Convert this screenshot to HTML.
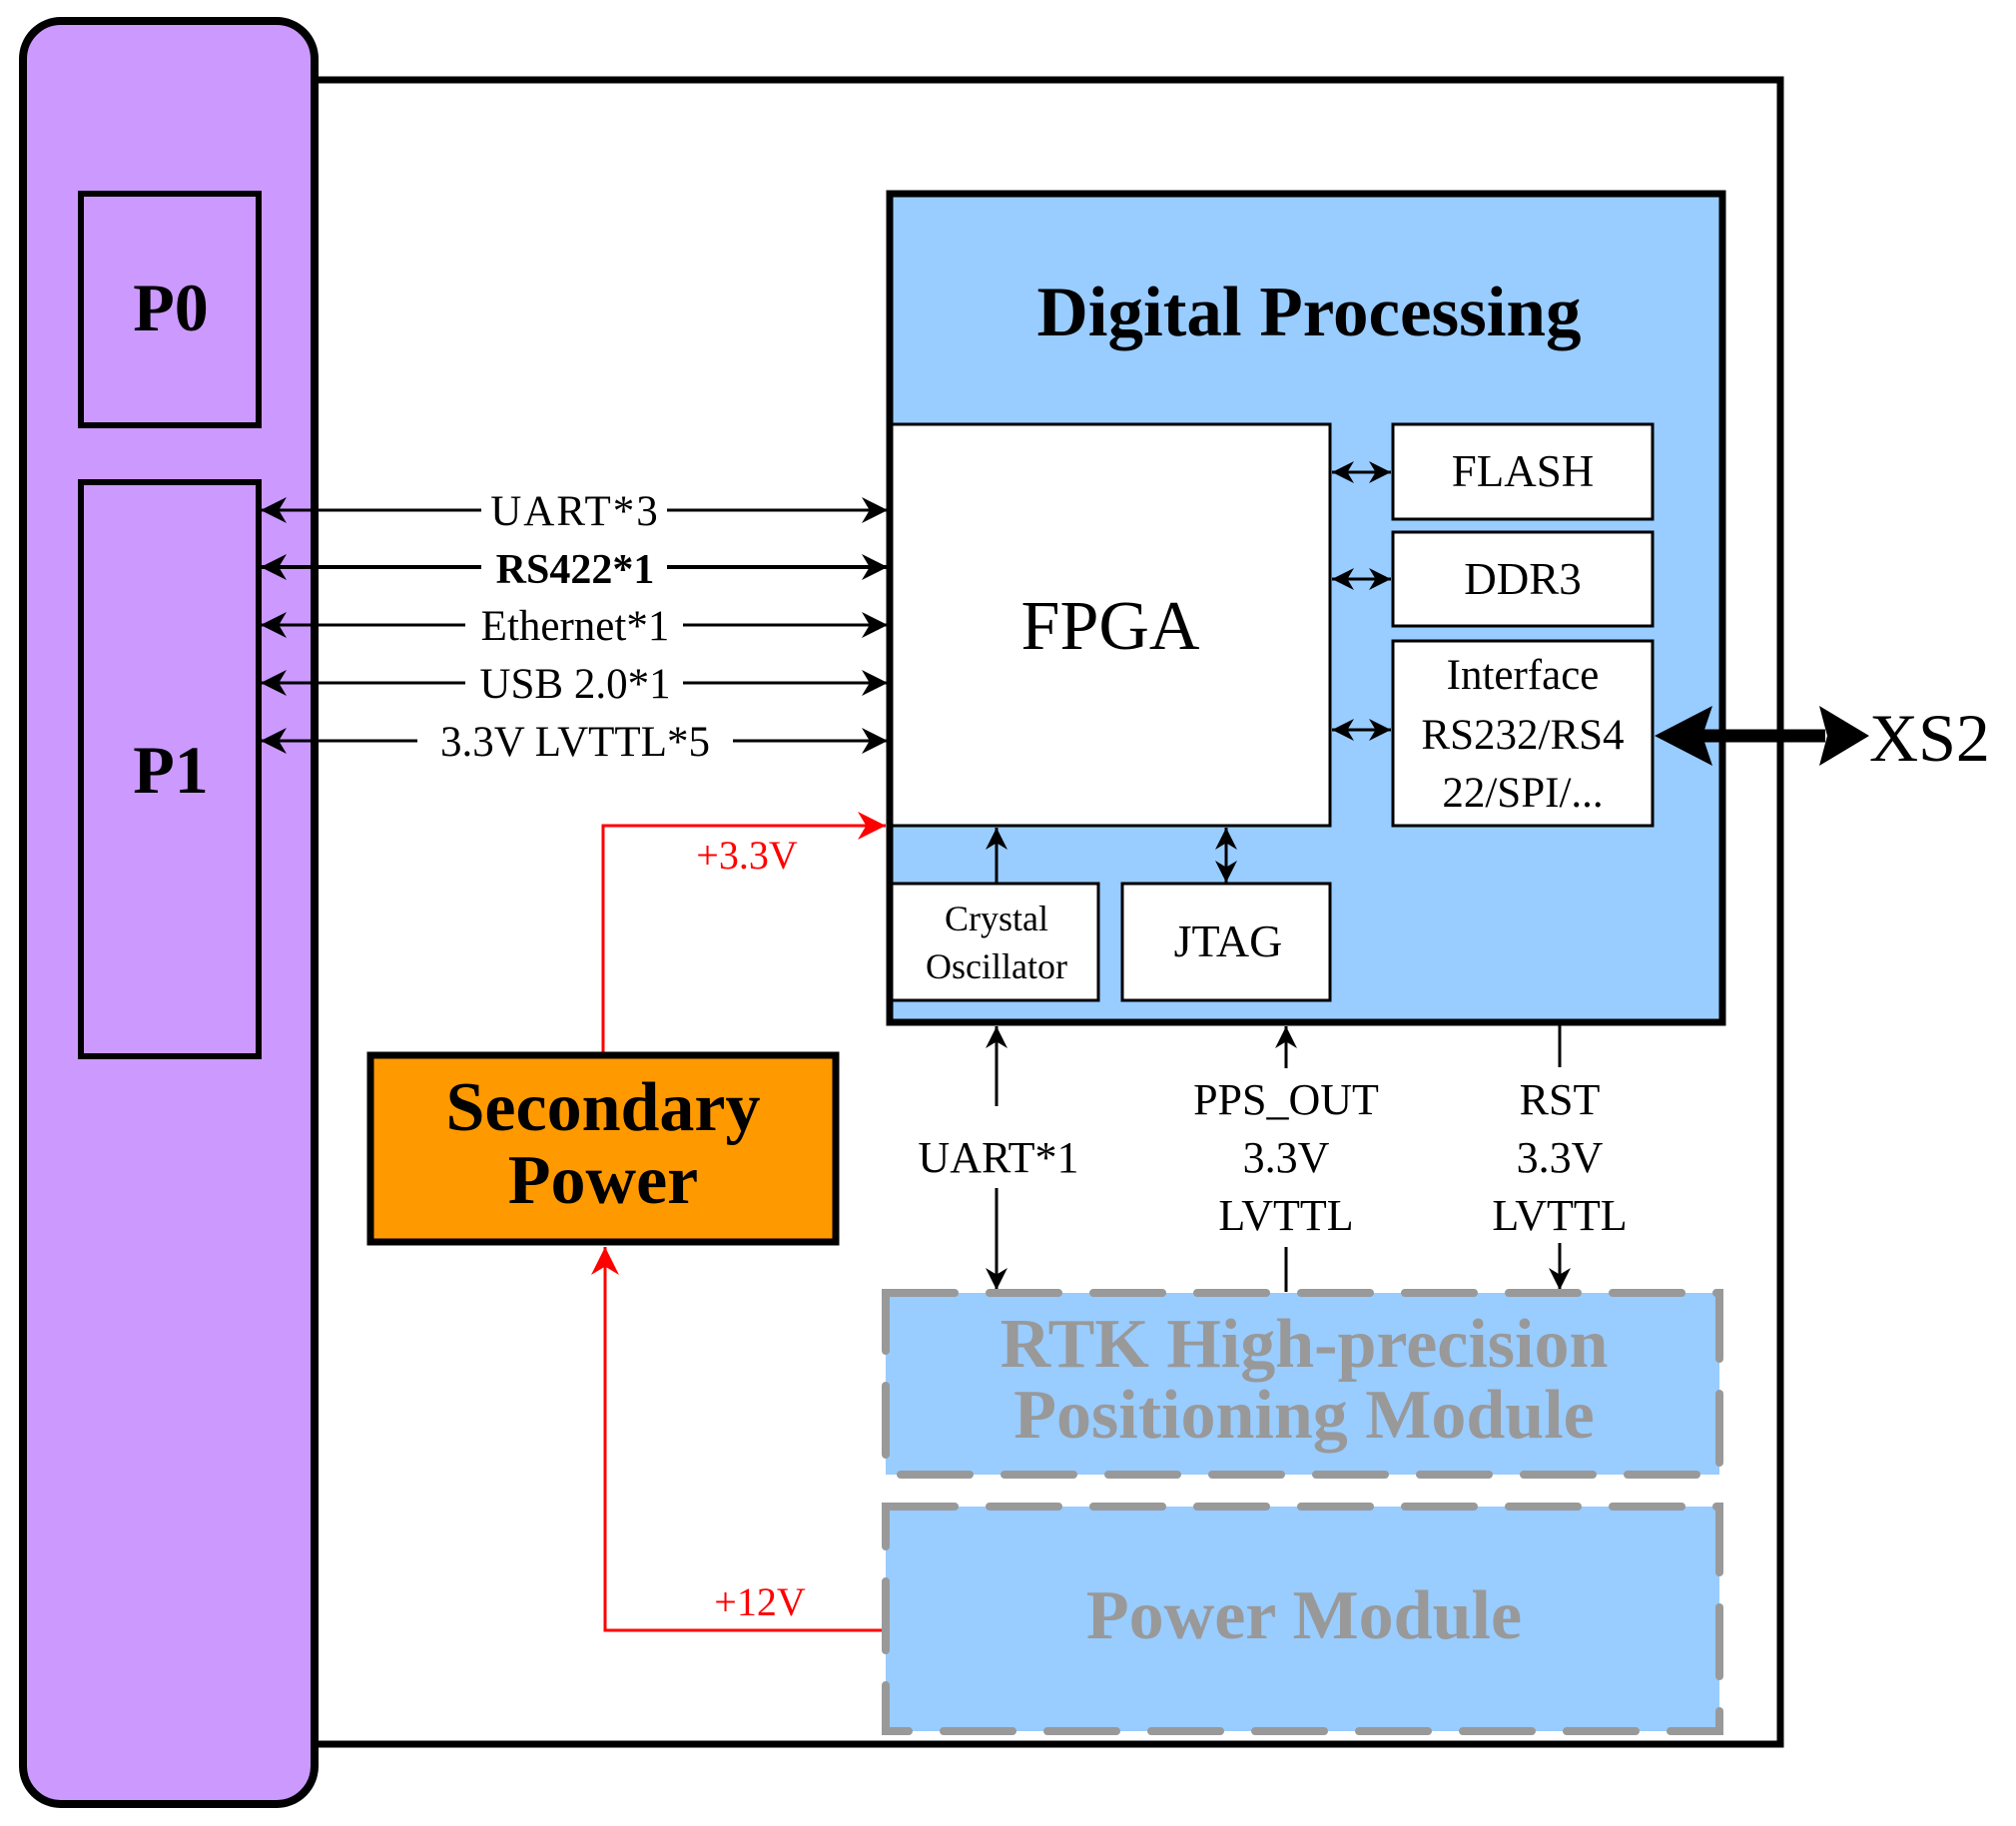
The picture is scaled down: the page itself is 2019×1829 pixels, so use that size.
<!DOCTYPE html>
<html><head><meta charset="utf-8"><style>
html,body{margin:0;padding:0;background:#fff}
svg{display:block}
text{font-family:"Liberation Serif",serif}
</style></head><body>
<svg width="2019" height="1829" viewBox="0 0 2019 1829" xmlns="http://www.w3.org/2000/svg">
<defs>
<marker id="ab" viewBox="0 0 10 10" refX="10" refY="5" markerWidth="26" markerHeight="26" markerUnits="userSpaceOnUse" orient="auto-start-reverse"><path d="M0,0 L10,5 L0,10 L3,5 z" fill="#000"/></marker>
<marker id="ar" viewBox="0 0 10 10" refX="10" refY="5" markerWidth="28" markerHeight="28" markerUnits="userSpaceOnUse" orient="auto-start-reverse"><path d="M0,0 L10,5 L0,10 L3,5 z" fill="#f00"/></marker>
<marker id="as" viewBox="0 0 10 10" refX="10" refY="5" markerWidth="22" markerHeight="22" markerUnits="userSpaceOnUse" orient="auto-start-reverse"><path d="M0,0 L10,5 L0,10 L3,5 z" fill="#000"/></marker>
</defs>
<rect x="315" y="80" width="1468" height="1667" fill="#fff" stroke="#000" stroke-width="7"/>
<rect x="23" y="21" width="292" height="1786" rx="38" fill="#CC99FF" stroke="#000" stroke-width="8"/>
<rect x="81" y="194" width="178" height="232" fill="#CC99FF" stroke="#000" stroke-width="6"/>
<rect x="81" y="483" width="178" height="575" fill="#CC99FF" stroke="#000" stroke-width="6"/>
<text x="171" y="331" font-size="68" font-weight="bold" text-anchor="middle">P0</text>
<text x="171" y="794" font-size="68" font-weight="bold" text-anchor="middle">P1</text>

<rect x="891" y="194" width="834" height="830" fill="#99CCFF" stroke="#000" stroke-width="7"/>
<text x="1311" y="336" font-size="71" font-weight="bold" text-anchor="middle">Digital Processing</text>
<rect x="893" y="425" width="439" height="402" fill="#fff" stroke="#000" stroke-width="3"/>
<text x="1112" y="650" font-size="70" text-anchor="middle">FPGA</text>
<rect x="1395" y="425" width="260" height="95" fill="#fff" stroke="#000" stroke-width="3"/>
<text x="1525" y="487" font-size="45" text-anchor="middle">FLASH</text>
<rect x="1395" y="533" width="260" height="94" fill="#fff" stroke="#000" stroke-width="3"/>
<text x="1525" y="595" font-size="45" text-anchor="middle">DDR3</text>
<rect x="1395" y="642" width="260" height="185" fill="#fff" stroke="#000" stroke-width="3"/>
<text x="1525" y="690" font-size="43" text-anchor="middle">Interface</text>
<text x="1525" y="750" font-size="43" text-anchor="middle">RS232/RS4</text>
<text x="1525" y="808" font-size="43" text-anchor="middle">22/SPI/...</text>
<rect x="893" y="885" width="207" height="117" fill="#fff" stroke="#000" stroke-width="3"/>
<text x="998" y="932" font-size="36" text-anchor="middle">Crystal</text>
<text x="998" y="980" font-size="36" text-anchor="middle">Oscillator</text>
<rect x="1124" y="885" width="208" height="117" fill="#fff" stroke="#000" stroke-width="3"/>
<text x="1230" y="958" font-size="46" text-anchor="middle">JTAG</text>
<line x1="998" y1="885" x2="998" y2="829" stroke="#000" stroke-width="3" marker-end="url(#as)"/>
<line x1="1228" y1="884" x2="1228" y2="829" stroke="#000" stroke-width="3" marker-start="url(#as)" marker-end="url(#as)"/>
<line x1="1334" y1="473" x2="1393" y2="473" stroke="#000" stroke-width="3" marker-start="url(#as)" marker-end="url(#as)"/>
<line x1="1334" y1="580" x2="1393" y2="580" stroke="#000" stroke-width="3" marker-start="url(#as)" marker-end="url(#as)"/>
<line x1="1334" y1="731" x2="1393" y2="731" stroke="#000" stroke-width="3" marker-start="url(#as)" marker-end="url(#as)"/>

<line x1="1700" y1="737" x2="1828" y2="737" stroke="#000" stroke-width="13"/>
<path d="M1657,737 L1715,707 L1705,737 L1715,767 z" fill="#000"/>
<path d="M1872,737 L1822,707 L1830,737 L1822,767 z" fill="#000"/>
<text x="1872" y="762" font-size="68">XS2</text>

<g stroke="#000" stroke-width="3">
<line x1="261" y1="511" x2="889" y2="511" marker-start="url(#ab)" marker-end="url(#ab)"/>
<line x1="261" y1="568" x2="889" y2="568" stroke-width="4" marker-start="url(#ab)" marker-end="url(#ab)"/>
<line x1="261" y1="626" x2="889" y2="626" marker-start="url(#ab)" marker-end="url(#ab)"/>
<line x1="261" y1="684" x2="889" y2="684" marker-start="url(#ab)" marker-end="url(#ab)"/>
<line x1="261" y1="742" x2="889" y2="742" marker-start="url(#ab)" marker-end="url(#ab)"/>
</g>
<g font-size="43" text-anchor="middle">
<rect x="482" y="490" width="186" height="40" fill="#fff"/>
<text x="576" y="526" letter-spacing="2">UART*3</text>
<rect x="482" y="548" width="186" height="40" fill="#fff"/>
<text x="576" y="584" font-weight="bold" font-size="42">RS422*1</text>
<rect x="466" y="605" width="218" height="40" fill="#fff"/>
<text x="576" y="641">Ethernet*1</text>
<rect x="466" y="663" width="218" height="40" fill="#fff"/>
<text x="576" y="699">USB 2.0*1</text>
<rect x="418" y="721" width="316" height="40" fill="#fff"/>
<text x="576" y="757">3.3V LVTTL*5</text>
</g>

<polyline points="604,1058 604,827 887,827" fill="none" stroke="#f00" stroke-width="3" marker-end="url(#ar)"/>
<text x="748" y="870" font-size="40" fill="#f00" text-anchor="middle">+3.3V</text>
<rect x="371" y="1057" width="466" height="187" fill="#FF9900" stroke="#000" stroke-width="7"/>
<text x="604" y="1132" font-size="70" font-weight="bold" text-anchor="middle">Secondary</text>
<text x="604" y="1205" font-size="70" font-weight="bold" text-anchor="middle">Power</text>
<polyline points="892,1633 606,1633 606,1249" fill="none" stroke="#f00" stroke-width="3" marker-end="url(#ar)"/>
<text x="761" y="1618" font-size="40" fill="#f00" text-anchor="middle">+12V</text>

<g stroke="#000" stroke-width="3">
<line x1="998" y1="1028" x2="998" y2="1108" marker-start="url(#as)"/>
<line x1="998" y1="1190" x2="998" y2="1292" marker-end="url(#as)"/>
<line x1="1288" y1="1028" x2="1288" y2="1070" marker-start="url(#as)"/>
<line x1="1288" y1="1249" x2="1288" y2="1294"/>
<line x1="1562" y1="1026" x2="1562" y2="1069"/>
<line x1="1562" y1="1245" x2="1562" y2="1292" marker-end="url(#as)"/>
</g>
<g font-size="44" text-anchor="middle">
<text x="1000" y="1174">UART*1</text>
<text x="1288" y="1116">PPS_OUT</text>
<text x="1288" y="1174">3.3V</text>
<text x="1288" y="1232">LVTTL</text>
<text x="1562" y="1116">RST</text>
<text x="1562" y="1174">3.3V</text>
<text x="1562" y="1232">LVTTL</text>
</g>

<rect x="887" y="1295" width="835" height="182" fill="#99CCFF" stroke="#999" stroke-width="8" stroke-dasharray="69 35" stroke-linecap="round"/>
<text x="1306" y="1369" font-size="70" font-weight="bold" fill="#999" text-anchor="middle">RTK High-precision</text>
<text x="1306" y="1440" font-size="70" font-weight="bold" fill="#999" text-anchor="middle">Positioning Module</text>
<rect x="887" y="1509" width="835" height="225" fill="#99CCFF" stroke="#999" stroke-width="8" stroke-dasharray="69 35" stroke-linecap="round"/>
<text x="1306" y="1641" font-size="70" font-weight="bold" fill="#999" text-anchor="middle">Power Module</text>
</svg>
</body></html>
